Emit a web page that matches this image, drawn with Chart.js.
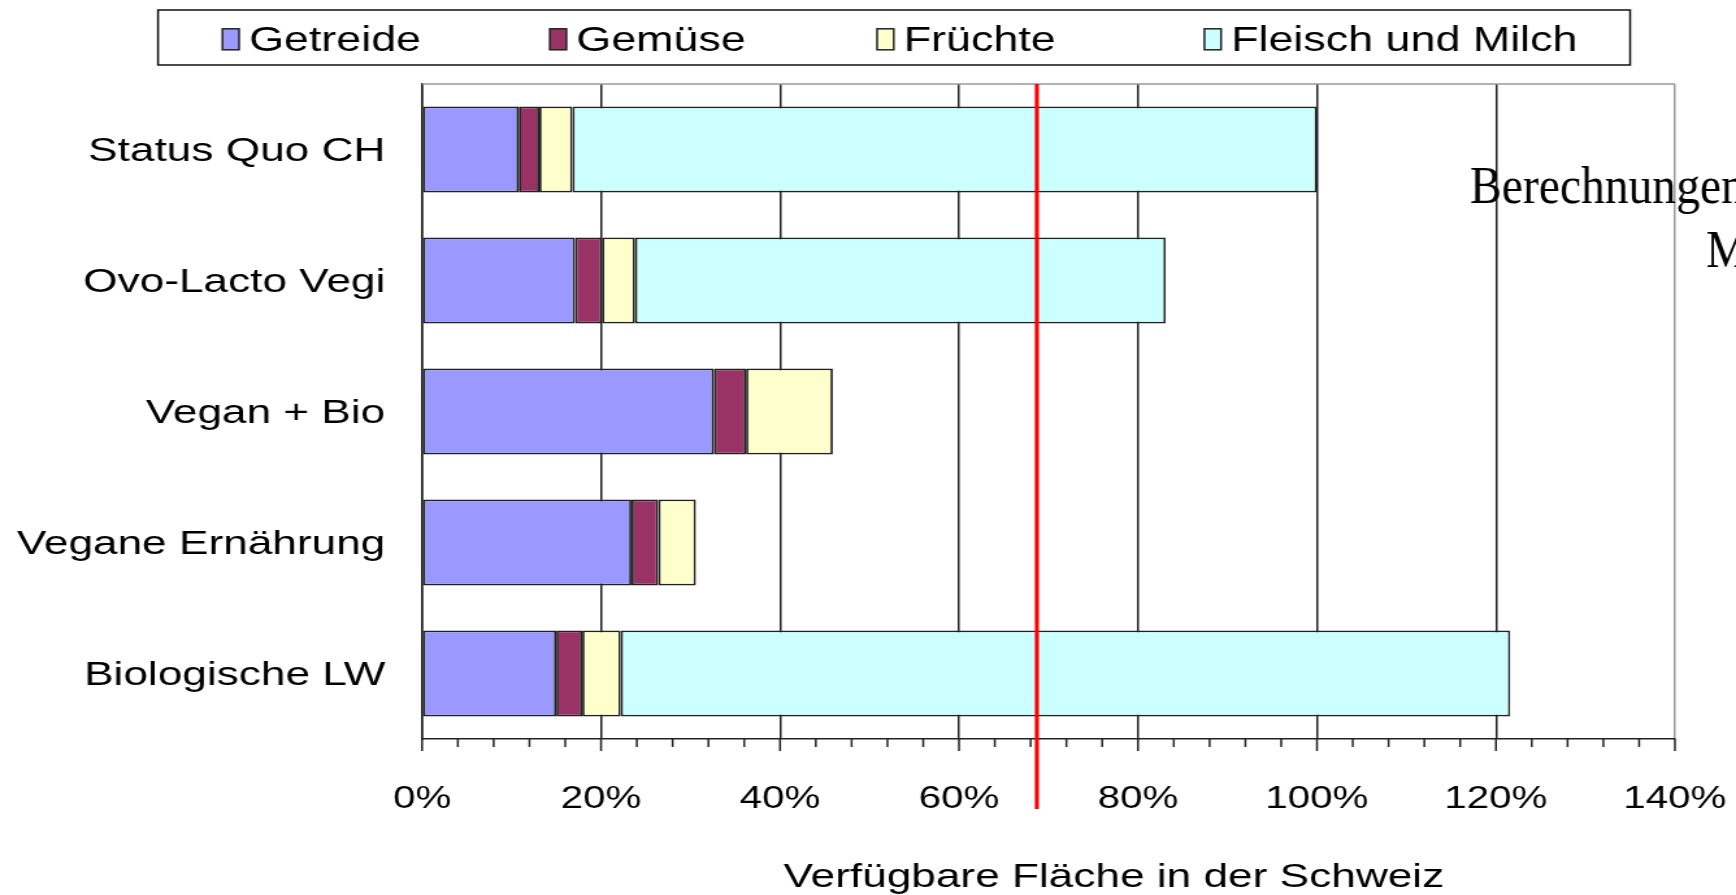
<!DOCTYPE html>
<html>
<head>
<meta charset="utf-8">
<script src="https://cdn.jsdelivr.net/npm/chart.js@4/dist/chart.umd.min.js"></script>
<style>
  html, body { margin: 0; padding: 0; background: #fff; overflow: hidden; }
  /* the source chart is stretched sideways, so we draw narrow and stretch */
  #wrap { width: 1336px; height: 895px; transform: scaleX(1.2994); transform-origin: 0 0; }
</style>
</head>
<body>
<div id="wrap"><canvas id="chart" width="1336" height="895"></canvas></div>
<script>
const S = 1736 / 1336;

const categories = ["Status Quo CH", "Ovo-Lacto Vegi", "Vegan + Bio", "Vegane Ernährung", "Biologische LW"];
const getreide = [10.8, 17.1, 32.6, 23.4, 15.0];
const gemuese = [2.3, 3.0, 3.6, 3.0, 2.9];
const fruechte = [3.7, 3.7, 9.7, 4.2, 4.3];
const fleischMilch = [83.2, 59.3, 0, 0, 99.4];
const seriesNames = ["Getreide", "Gemüse", "Früchte", "Fleisch und Milch"];
const seriesColors = ["#9999ff", "#993366", "#ffffcc", "#ccffff"];
const xTicks = [0, 20, 40, 60, 80, 100, 120, 140];
const limitLine = 68.7;
const axisTitle = "Verfügbare Fläche in der Schweiz";
const noteLines = ["Berechnungen", "M"];

Chart.defaults.font.family = "'Liberation Sans', Arial, sans-serif";
Chart.defaults.color = "#000";

const values = [getreide, gemuese, fruechte, fleischMilch];

// legend box, plot frame, ticks, red line, axis title, note
const extras = {
    id: "extras",
    beforeDatasetsDraw(chart) {
        const ctx = chart.ctx, a = chart.chartArea;
        ctx.save();
        ctx.strokeStyle = "#999";
        ctx.lineWidth = 1.5;
        ctx.beginPath();
        ctx.moveTo(a.left, a.top);
        ctx.lineTo(a.right, a.top);
        ctx.stroke();
        ctx.restore();
    },
    afterDatasetsDraw(chart) {
        const ctx = chart.ctx, a = chart.chartArea, x = chart.scales.x;
        ctx.save();
        // major and minor ticks under the axis
        ctx.strokeStyle = "#222";
        ctx.lineWidth = 1.5;
        for (let v = 0; v <= 140; v += 4) {
            const px = x.getPixelForValue(v);
            const len = v % 20 === 0 ? 12 : 8;
            ctx.beginPath();
            ctx.moveTo(px, a.bottom);
            ctx.lineTo(px, a.bottom + len);
            ctx.stroke();
        }
        // red line
        const rx = x.getPixelForValue(limitLine);
        ctx.strokeStyle = "#ff0000";
        ctx.lineWidth = 4 / S;
        ctx.beginPath();
        ctx.moveTo(rx, a.top);
        ctx.lineTo(rx, 809);
        ctx.stroke();

        // axis title
        ctx.fillStyle = "#000";
        ctx.font = "34px 'Liberation Sans', Arial, sans-serif";
        ctx.textAlign = "center";
        ctx.textBaseline = "alphabetic";
        ctx.fillText(axisTitle, 857.2, 886.5);

        // legend
        ctx.lineWidth = 1.5;
        ctx.strokeStyle = "#111";
        ctx.strokeRect(121.6, 10, 1132.9, 55);
        ctx.font = "34.5px 'Liberation Sans', Arial, sans-serif";
        ctx.textAlign = "left";
        ctx.textBaseline = "middle";
        chart.data.datasets.forEach((ds, i) => {
            const lx = 171.2 + i * 251.9;
            ctx.fillStyle = ds.backgroundColor;
            ctx.fillRect(lx, 28.8, 12.8, 21);
            ctx.strokeStyle = "#222";
            ctx.strokeRect(lx, 28.8, 12.8, 21);
            ctx.fillStyle = "#000";
            ctx.fillText(ds.label, lx + 20.5, 41.5);
        });

        // serif note on the right, not stretched
        ctx.font = "52px 'Liberation Serif', 'Times New Roman', serif";
        ctx.textBaseline = "alphabetic";
        const notePos = [[1131.3, 202.7], [1312.9, 266.7]];
        noteLines.forEach((t, i) => {
            ctx.save();
            ctx.translate(notePos[i][0], notePos[i][1]);
            ctx.scale(0.915 / S, 1);
            ctx.fillText(t, 0, 0);
            ctx.restore();
        });
        ctx.restore();
    }
};

new Chart("chart", {
    type: "bar",
    data: {
        labels: categories,
        datasets: seriesNames.map((name, i) => ({
            label: name,
            data: values[i],
            backgroundColor: seriesColors[i],
            borderColor: "#222",
            borderWidth: 1.8,
            borderSkipped: false,
            barPercentage: 0.656,
            categoryPercentage: 1.0
        }))
    },
    options: {
        indexAxis: "y",
        responsive: false,
        animation: false,
        devicePixelRatio: 1,
        layout: { padding: { top: 84, right: 47, left: 0, bottom: 0 } },
        plugins: {
            legend: { display: false },
            tooltip: { enabled: false }
        },
        scales: {
            x: {
                stacked: true,
                min: 0,
                max: 140,
                afterBuildTicks: (scale) => { scale.ticks = xTicks.map(v => ({ value: v })); },
                afterFit: (scale) => { scale.height = 895 - 739; },
                ticks: {
                    callback: (v) => v + "%",
                    font: { size: 31 },
                    padding: 0,
                    maxRotation: 0,
                    autoSkip: false
                },
                grid: {
                    color: (c) => (c.tick && c.tick.value === 140) ? "#999" : "#222",
                    lineWidth: 1.5,
                    drawTicks: true,
                    tickLength: 42,
                    tickColor: "rgba(0,0,0,0)"
                },
                border: { display: true, color: "#222", width: 1.5 }
            },
            y: {
                stacked: true,
                afterFit: (scale) => { scale.width = 324.8; },
                ticks: { font: { size: 34 }, padding: 28.3, labelOffset: 2 },
                grid: { display: false, drawTicks: false },
                border: { display: true, color: "#222", width: 1.5 }
            }
        }
    },
    plugins: [extras]
});
</script>
</body>
</html>
